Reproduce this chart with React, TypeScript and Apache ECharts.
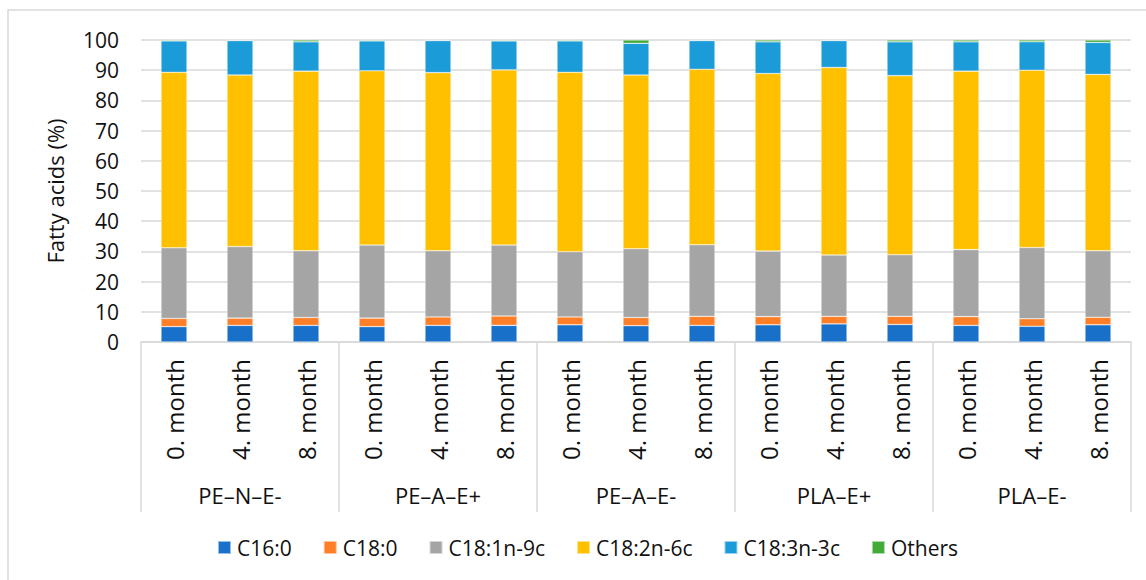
import React, { useEffect, useRef } from "react";
import * as echarts from "echarts";

// Sampling points (months) within each packaging group
const months = [
  "0. month", "4. month", "8. month",
  "0. month", "4. month", "8. month",
  "0. month", "4. month", "8. month",
  "0. month", "4. month", "8. month",
  "0. month", "4. month", "8. month",
];
const groups = ["PE–N–E-", "PE–A–E+", "PE–A–E-", "PLA–E+", "PLA–E-"];

// Fatty acid composition (%)
const c160 = [5.1, 5.5, 5.5, 5.1, 5.5, 5.5, 5.7, 5.4, 5.5, 5.7, 6.0, 5.8, 5.5, 5.2, 5.7];
const c180 = [2.7, 2.4, 2.6, 2.8, 2.8, 3.1, 2.6, 2.7, 3.0, 2.7, 2.5, 2.7, 2.9, 2.5, 2.5];
const c181 = [23.4, 23.7, 22.1, 24.2, 21.9, 23.5, 21.6, 22.8, 23.7, 21.7, 20.3, 20.4, 22.2, 23.6, 22.0];
const c182 = [58.1, 56.8, 59.5, 57.7, 59.0, 58.0, 59.4, 57.5, 58.1, 58.8, 62.1, 59.3, 59.1, 58.7, 58.4];
const c183 = [10.4, 11.4, 9.7, 9.9, 10.6, 9.6, 10.4, 10.5, 9.5, 10.5, 8.9, 11.2, 9.7, 9.4, 10.6];
const others = [0.3, 0.2, 0.6, 0.3, 0.2, 0.3, 0.3, 1.1, 0.2, 0.6, 0.2, 0.6, 0.6, 0.6, 0.8];

const seriesNames = ["C16:0", "C18:0", "C18:1n-9c", "C18:2n-6c", "C18:3n-3c", "Others"];
const seriesValues = [c160, c180, c181, c182, c183, others];
const seriesColors = ["#1870c8", "#fe7f27", "#a5a5a5", "#ffc000", "#1b9bd7", "#42ab37"];

const FONT = "'Open Sans', sans-serif";
const GRID_LINE = "#d9d9d9";
const TEXT = "#111";

export default function App() {
  const ref = useRef<HTMLDivElement>(null);

  useEffect(() => {
    document.body.style.margin = "0";
    if (!ref.current) return;
    const chart = echarts.init(ref.current, null, { renderer: "svg" });

    chart.setOption({
      animation: false,
      backgroundColor: "#ffffff",
      textStyle: { fontFamily: FONT, color: TEXT },
      graphic: [
        {
          type: "rect",
          shape: { x: 8, y: 10, width: 1160, height: 600 },
          style: { fill: "none", stroke: GRID_LINE, lineWidth: 1.5 },
          silent: true,
        },
      ],
      grid: { left: 141, right: 15, top: 40, bottom: 238 },
      legend: {
        data: seriesNames,
        left: 212,
        top: 532,
        itemWidth: 13,
        itemHeight: 13,
        itemGap: 31,
        icon: "rect",
        textStyle: { fontFamily: FONT, fontSize: 21, color: TEXT, padding: [0, 0, 0, 1] },
      },
      xAxis: [
        {
          type: "category",
          data: months,
          position: "bottom",
          axisLine: { show: true, lineStyle: { color: GRID_LINE, width: 1.5 } },
          axisTick: { show: false },
          axisLabel: {
            interval: 0,
            rotate: 90,
            margin: 17,
            fontFamily: FONT,
            fontSize: 24,
            color: TEXT,
          },
        },
        {
          type: "category",
          data: groups,
          position: "bottom",
          axisLine: { show: false },
          axisTick: {
            show: true,
            length: 170,
            lineStyle: { color: GRID_LINE, width: 1.5 },
          },
          axisLabel: {
            interval: 0,
            margin: 142,
            fontFamily: FONT,
            fontSize: 22,
            color: TEXT,
          },
          splitLine: { show: false },
        },
      ],
      yAxis: {
        type: "value",
        min: 0,
        max: 100,
        interval: 10,
        name: "Fatty acids (%)",
        nameLocation: "middle",
        nameGap: 75,
        nameTextStyle: { fontFamily: FONT, fontSize: 22, color: TEXT },
        axisLine: { show: false },
        axisTick: { show: false },
        axisLabel: { margin: 22, fontFamily: FONT, fontSize: 21, color: TEXT },
        splitLine: { lineStyle: { color: GRID_LINE, width: 1.5 } },
      },
      series: seriesNames.map((name, i) => ({
        name,
        type: "bar",
        stack: "total",
        xAxisIndex: 0,
        barWidth: 26,
        data: seriesValues[i],
        itemStyle: {
          color: seriesColors[i],
          borderColor: "rgba(255,255,255,0.55)",
          borderWidth: 0.6,
        },
      })),
    });

    return () => chart.dispose();
  }, []);

  return <div ref={ref} style={{ width: 1146, height: 580 }} />;
}
